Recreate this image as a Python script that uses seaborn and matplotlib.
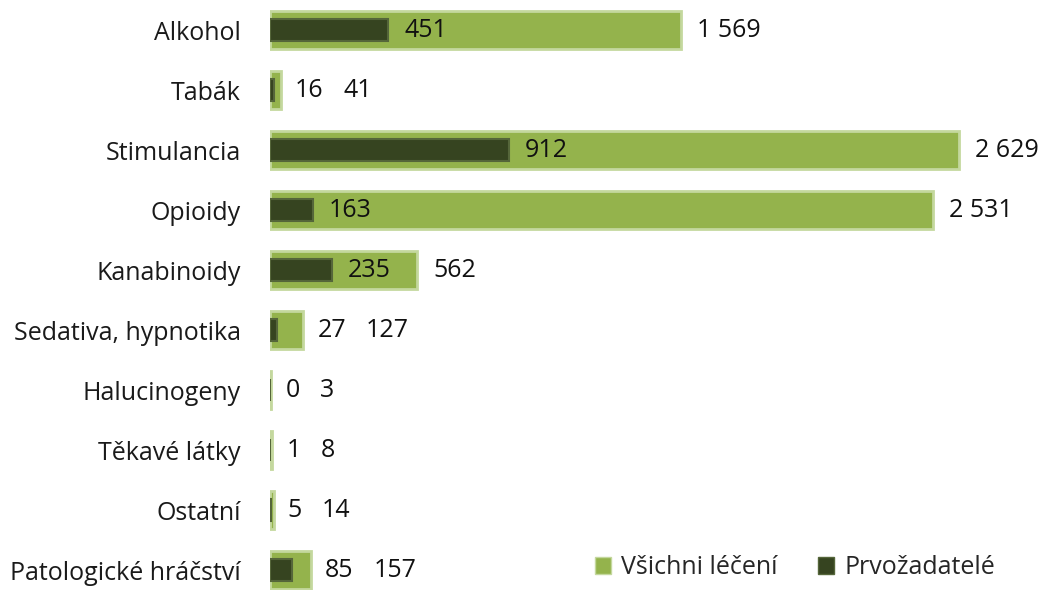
import matplotlib
matplotlib.use("Agg")
import matplotlib.pyplot as plt
import seaborn as sns
import pandas as pd
from matplotlib.patches import Patch

categories = ["Alkohol", "Tabák", "Stimulancia", "Opioidy", "Kanabinoidy",
              "Sedativa, hypnotika", "Halucinogeny", "Těkavé látky", "Ostatní",
              "Patologické hráčství"]
vsichni = [1569, 41, 2629, 2531, 562, 127, 3, 8, 14, 157]
prvozadatele = [451, 16, 912, 163, 235, 27, 0, 1, 5, 85]
series_names = ["Všichni léčení", "Prvožadatelé"]

LIGHT = "#94b34c"
LIGHT_EDGE = "#c4d89e"
DARK = "#364420"
DARK_EDGE = "#55663a"

sns.set_style("white")
plt.rcParams["font.family"] = ["Open Sans", "DejaVu Sans"]

df = pd.DataFrame({"cat": categories, "all": vsichni, "first": prvozadatele})

W, H, DPI = 1045, 590, 100
fig = plt.figure(figsize=(W / DPI, H / DPI), dpi=DPI)
ax = fig.add_axes([270 / W, 0, (1040 - 270) / W, 1])

sns.barplot(data=df, x="all", y="cat", orient="h", color=LIGHT, width=0.62,
            edgecolor=LIGHT_EDGE, linewidth=2.0, saturation=1, ax=ax)
sns.barplot(data=df, x="first", y="cat", orient="h", color=DARK, width=0.38,
            edgecolor=DARK_EDGE, linewidth=1.5, saturation=1, ax=ax)

scale = 0.26208  # px per unit
ax.set_xlim(0, (1040 - 270) / scale)
ax.set_ylim(9.333, -0.5)
sns.despine(ax=ax, left=True, bottom=True)
ax.set_xticks([])
ax.set_xlabel("")
ax.set_ylabel("")
fs = 18
ax.tick_params(axis="y", length=0, pad=21, labelsize=fs)
for lbl in ax.get_yticklabels():
    lbl.set_color("#1a1a1a")

def fmt(v):
    return f"{v:,}".replace(",", " ")

px = 72 / DPI
dark_texts = []
for i, (a, f) in enumerate(zip(vsichni, prvozadatele)):
    off_dark = f * scale + 16
    off_green = a * scale + 14
    x_px = max(off_dark, off_green) if a * scale < 60 else off_dark
    t = ax.annotate(fmt(f), xy=(0, i), xytext=(x_px * px, 0), textcoords="offset points",
                    va="center", ha="left", fontsize=fs, color="#111111")
    dark_texts.append(t)

fig.canvas.draw()
r = fig.canvas.get_renderer()
x0_disp = ax.transData.transform((0, 0))[0]
for i, (a, t) in enumerate(zip(vsichni, dark_texts)):
    bb = t.get_window_extent(r)
    green_end = a * scale + 16
    x_px = max(green_end, bb.x1 - x0_disp + 20)
    ax.annotate(fmt(a), xy=(0, i), xytext=(x_px * px, 0), textcoords="offset points",
                va="center", ha="left", fontsize=fs, color="#111111")

handles = [Patch(facecolor=LIGHT, edgecolor=LIGHT_EDGE, label=series_names[0]),
           Patch(facecolor=DARK, edgecolor=DARK_EDGE, label=series_names[1])]
fig.legend(handles=handles, loc="center", bbox_to_anchor=(795 / W, 1 - 568 / H),
           ncol=2, frameon=False, fontsize=fs, handlelength=0.65, handleheight=0.65,
           handletextpad=0.4, columnspacing=1.6)

fig.savefig("out.png", dpi=DPI)
